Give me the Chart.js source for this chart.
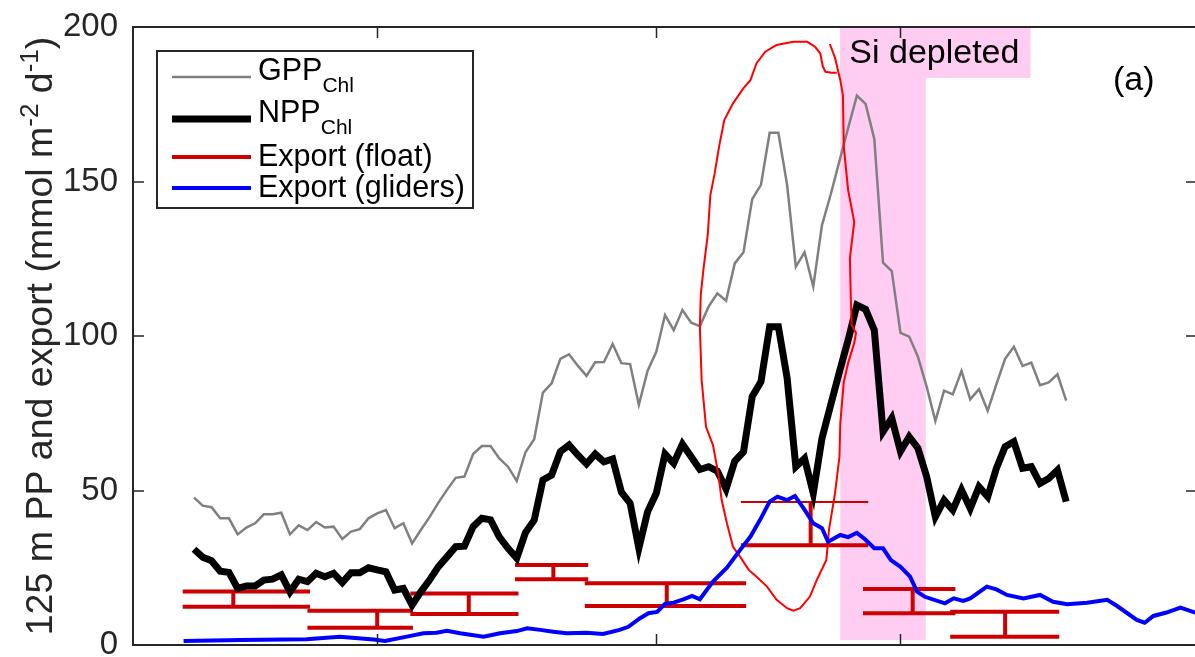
<!DOCTYPE html>
<html><head><meta charset="utf-8">
<script src="https://cdn.jsdelivr.net/npm/chart.js@4.4.1/dist/chart.umd.min.js"></script>
<style>
html,body{margin:0;padding:0;overflow:hidden;background:#fff;width:1195px;height:657px}
#wrap{position:absolute;left:0;top:0}
</style></head><body><div id="wrap"><canvas id="c" width="1200" height="657"></canvas></div>
<script>
// ---------------- data ----------------
const FIRST_DAY = 7; // GPP / NPP daily series start
const gppValues = [47.7,45.1,44.6,41.0,41.0,35.8,38.0,39.4,42.3,42.3,
42.8,35.8,38.7,37.2,39.8,38.0,38.3,34.3,36.7,37.5,
41.0,42.6,43.7,37.8,39.4,32.9,37.2,41.4,46.0,50.2,
54.1,54.5,61.8,64.4,64.4,60.4,57.7,53.1,62.4,66.6,
81.7,84.7,92.6,94.1,90.4,87.1,91.5,91.6,97.4,91.2,
90.9,77.7,88.7,94.9,106.8,101.9,108.4,104.3,103.2,109.5,
113.8,111.4,123.5,127.1,144.3,148.9,165.8,165.8,148.9,122.4,
127.1,116.0,135.9,145.8,156.6,167.3,177.8,175.1,163.8,123.7,
121.0,101.0,99.8,93.3,83.6,72.5,82.3,81.1,88.7,79.5,
82.8,75.8,84.4,92.6,96.5,90.3,91.4,84.1,85.0,87.6,
79.1];
const nppValues = [31.0,28.4,27.3,23.9,23.5,18.3,19.1,19.1,21.0,21.3,
22.7,17.2,21.3,20.5,23.2,22.1,23.2,20.2,23.4,23.4,
25.0,24.3,23.7,17.8,18.3,12.9,17.2,21.0,25.3,28.5,
31.8,32.0,38.3,41.0,40.5,35.0,31.3,28.1,36.4,40.4,
53.4,55.0,62.6,64.7,61.5,58.6,61.8,59.3,60.2,49.5,
45.9,31.3,43.1,49.1,61.8,58.8,65.0,60.9,56.8,57.7,
56.3,50.5,59.5,62.5,80.4,85.2,103.0,103.0,86.4,57.7,
60.4,49.1,66.9,77.7,88.4,98.7,110.0,108.6,101.9,69.0,
73.4,62.6,67.4,63.7,54.5,41.5,46.9,43.7,50.2,44.2,
51.2,48.0,57.2,64.2,65.8,57.2,57.7,52.3,53.9,56.6,
46.4];
const gliderDays = [5.8,12.3,19.9,23.7,27.6,28.9,31.4,33.3,34.8,36.0,37.5,40.2,42.1,44.0,45.2,46.7,48.2,49.7,52.0,53.9,55.8,56.8,58.1,59.1,60.1,61.0,62.0,63.1,64.1,65.0,66.5,68.1,69.6,70.8,71.9,73.0,73.9,75.0,75.9,76.9,78.0,79.0,79.7,81.1,82.0,83.0,83.9,85.0,86.0,86.9,88.0,89.1,89.9,90.8,93.1,94.1,95.2,96.0,97.9,99.0,100.2,102.1,104.0,105.5,107.1,109.4,111.7,112.8,115.1,116.0,117.0,118.5,120.1,121.8,122.5];
const gliderValues = [1.3,1.6,1.9,2.7,1.8,1.3,2.7,3.8,4.0,4.6,3.8,2.7,3.8,4.5,5.4,4.9,4.3,3.8,4.0,3.6,4.9,5.9,8.6,10.3,10.7,13.3,13.7,14.8,15.9,14.8,20.5,25.0,30.7,35.1,40.5,46.4,48.0,46.9,48.2,44.2,39.4,37.8,33.4,35.6,34.9,36.3,34.3,31.3,31.3,27.5,25.3,22.1,17.3,15.6,13.5,15.1,14.3,15.1,18.9,18.0,16.2,15.1,16.2,14.0,13.2,13.7,14.6,12.7,8.1,7.2,9.4,10.5,12.1,10.5,10.0];
// hand-drawn highlight loop
const loopDays = [79.9,80.5,81.1,81.4,81.5,82.0,82.7,82.2,82.3,82.4,82.9,82.7,82.0,81.5,81.1,81.0,80.5,79.8,79.5,78.4,77.6,76.5,75.7,75.0,73.8,72.7,71.5,70.6,69.6,68.8,68.1,67.5,67.1,66.5,65.7,65.2,65.0,65.1,65.4,65.9,66.2,66.7,67.2,67.8,68.8,70.0,70.8,71.5,72.5,73.8,75.7,77.3,78.2,78.8,79.1,79.4,80.1,80.7];
const loopValues = [194.5,190.0,182.8,178.0,161.2,147.2,136.9,125.2,112.6,103.6,101.0,97.7,91.3,85.1,71.8,60.8,49.2,37.2,27.5,21.0,15.6,11.9,11.1,11.9,14.6,18.9,22.1,24.3,28.6,31.8,39.4,46.9,55.6,64.7,70.6,85.8,102.9,113.3,121.4,132.7,145.6,152.7,161.3,169.9,175.3,180.2,182.8,188.3,192.0,194.2,195.2,195.2,193.6,191.5,187.2,185.5,185.2,185.2];
// float export bars
const floatStart = [5.7,20.0,31.8,43.8,51.8,69.7,83.7,93.7];
const floatEnd   = [20.3,32.1,44.2,52.2,70.3,84.3,94.3,106.2];
const floatMid   = [11.5,28.0,38.5,48.2,61.2,77.7,89.4,100.0];
const floatHigh  = [17.3,11.1,16.7,25.9,20.0,46.3,18.1,10.8];
const floatLow   = [12.4,5.6,10.0,21.3,12.6,32.3,10.3,2.7];
const yTicks = [0,50,100,150,200];
const xTicks = [28,60,88];
const siStart = 81.1, siEnd = 90.9, siBottom = 1.6, siLabelEnd = 102.9, siLabelBottom = 183.5;

// ---------------- chart ----------------
const FONT = "'Liberation Sans', Arial, Helvetica, sans-serif";
const AXIS = '#262626';
const TARGET = {left:133, top:27, right:1197, bottom:645};
const THIN_BAR = 5; // the bar whose upper cap is drawn thin in the source

const gppData = gppValues.map((v,i)=>({x:FIRST_DAY+i, y:v}));
const nppData = nppValues.map((v,i)=>({x:FIRST_DAY+i, y:v}));
const gliderData = gliderDays.map((d,i)=>({x:d, y:gliderValues[i]}));
const loopData = loopDays.map((d,i)=>({x:d, y:loopValues[i]}));
const floatData = [];
floatStart.forEach((s,i)=>{
  const e = floatEnd[i], m = floatMid[i];
  floatData.push({x:s,y:floatHigh[i]},{x:e,y:floatHigh[i]},{x:e,y:null},
                 {x:s,y:floatLow[i]},{x:e,y:floatLow[i]},{x:e,y:null},
                 {x:m,y:floatLow[i]},{x:m,y:floatHigh[i]},{x:m,y:null});
});

const legendOrder = ['GPP','NPP','Export (float)','Export (gliders)'];
const legendSubs = {'GPP':'Chl','NPP':'Chl'};

function richWidth(ctx, parts){
  let w=0; parts.forEach(p=>{ctx.font=p.size+'px '+FONT; w+=ctx.measureText(p.t).width;}); return w;
}
function drawRich(ctx, parts, x, y){
  parts.forEach(p=>{ctx.font=p.size+'px '+FONT; ctx.fillText(p.t, x, y+(p.dy||0)); x+=ctx.measureText(p.t).width;});
}

const decor = {
  id:'decor',
  beforeDatasetsDraw(chart){
    const {ctx, scales:{x,y}} = chart;
    ctx.save();
    ctx.fillStyle = 'rgb(255,204,242)';
    const xl = x.getPixelForValue(siStart), xr = x.getPixelForValue(siEnd);
    const yt = y.getPixelForValue(200);
    ctx.fillRect(xl, yt, xr-xl, y.getPixelForValue(siBottom)-yt);
    const xr2 = x.getPixelForValue(siLabelEnd);
    ctx.fillRect(xl, yt, xr2-xl, y.getPixelForValue(siLabelBottom)-yt);
    ctx.restore();
  },
  afterDraw(chart){
    const {ctx, chartArea:a, scales:{x,y}} = chart;
    ctx.save();
    ctx.fillStyle='#000'; ctx.textBaseline='alphabetic'; ctx.textAlign='left';
    ctx.font='34px '+FONT;
    ctx.fillText('Si depleted', x.getPixelForValue(siStart)+9, a.top+36);
    ctx.strokeStyle=AXIS; ctx.lineWidth=2;
    ctx.beginPath();
    ctx.moveTo(a.left, a.top); ctx.lineTo(a.right, a.top); ctx.lineTo(a.right, a.bottom);
    ctx.stroke();
    const TL = 11;
    ctx.beginPath();
    yTicks.forEach(v=>{const py=Math.round(y.getPixelForValue(v));
      ctx.moveTo(a.left, py); ctx.lineTo(a.left+TL, py);
      ctx.moveTo(a.right, py); ctx.lineTo(a.right-TL, py);});
    x.ticks.forEach(t=>{const px=Math.round(x.getPixelForValue(t.value))+0.5;
      ctx.moveTo(px, a.bottom); ctx.lineTo(px, a.bottom-TL);
      ctx.moveTo(px, a.top); ctx.lineTo(px, a.top+TL);});
    ctx.lineWidth=1.5; ctx.stroke();
    const L = {x:a.left+24, y:a.top+24, w:316, h:157};
    ctx.fillStyle='#fff'; ctx.fillRect(L.x, L.y, L.w, L.h);
    ctx.strokeStyle=AXIS; ctx.lineWidth=2; ctx.strokeRect(L.x, L.y, L.w, L.h);
    const rowLine = [26, 68, 106, 137];
    const rowText = [29, 71, 115, 146];
    legendOrder.forEach((lab,i)=>{
      const ds = chart.data.datasets.find(d=>d.label===lab);
      ctx.strokeStyle = ds.borderColor; ctx.lineWidth = ds.borderWidth;
      ctx.beginPath(); ctx.moveTo(L.x+15, L.y+rowLine[i]); ctx.lineTo(L.x+94, L.y+rowLine[i]); ctx.stroke();
      ctx.fillStyle='#000';
      const parts=[{t:lab,size:30.5}];
      if(legendSubs[lab]) parts.push({t:legendSubs[lab],size:21,dy:12});
      drawRich(ctx, parts, L.x+101, L.y+rowText[i]);
    });
    ctx.fillStyle='#000'; ctx.font='34px '+FONT;
    ctx.fillText('(a)', a.right-84, a.top+63);
    const tparts=[{t:'125 m PP and export (mmol m',size:37.5},{t:'-2',size:26,dy:-14},
      {t:' d',size:37.5},{t:'-1',size:26,dy:-14},{t:')',size:37.5}];
    ctx.translate(a.left-81, (a.top+a.bottom)/2);
    ctx.rotate(-Math.PI/2);
    ctx.fillStyle=AXIS;
    const tw = richWidth(ctx,tparts);
    drawRich(ctx, tparts, -tw/2, 0);
    ctx.restore();
  }
};

const chart = new Chart(document.getElementById('c'), {
  type:'line',
  data:{datasets:[
    {label:'Export (gliders)', data:gliderData, borderColor:'#0000ff', borderWidth:4, order:0},
    {label:'highlight', data:loopData, borderColor:'#ff0000', borderWidth:2, order:1},
    {label:'NPP', data:nppData, borderColor:'#000000', borderWidth:7, order:2},
    {label:'GPP', data:gppData, borderColor:'#808080', borderWidth:2.5, order:3},
    {label:'Export (float)', data:floatData, borderColor:'#cc0000', borderWidth:4, order:4,
      segment:{borderWidth: c => (c.p0DataIndex === THIN_BAR*9 ? 2 : undefined)}}
  ]},
  options:{
    responsive:false, animation:false, devicePixelRatio:1,
    layout:{padding:{left:0, top:27, right:3, bottom:0}},
    elements:{point:{radius:0, hitRadius:0}, line:{tension:0, fill:false, borderJoinStyle:'miter'}},
    plugins:{legend:{display:false}, tooltip:{enabled:false}},
    scales:{
      x:{type:'linear', min:0, max:122, position:'bottom',
        grid:{display:false, drawTicks:false}, border:{display:true, color:AXIS, width:2},
        ticks:{display:false},
        afterBuildTicks:s=>{s.ticks=xTicks.map(v=>({value:v}));},
        afterFit:s=>{s.height=12;}},
      y:{type:'linear', min:0, max:200, position:'left',
        grid:{display:true, drawOnChartArea:false, drawTicks:true, tickLength:15, color:'rgba(0,0,0,0)'},
        border:{display:true, color:AXIS, width:2},
        ticks:{color:AXIS, font:{family:FONT, size:33, lineHeight:0.7}, padding:0},
        afterBuildTicks:s=>{s.ticks=yTicks.map(v=>({value:v}));},
        afterFit:s=>{s.width=133;}}
    }
  },
  plugins:[decor]
});
// fit the plot box to the target frame through the layout padding
for (let k=0;k<4;k++){
  const a = chart.chartArea;
  const dt = TARGET.top-a.top, db = a.bottom-TARGET.bottom, dl = TARGET.left-a.left, dr = a.right-TARGET.right;
  if (Math.abs(dt)+Math.abs(db)+Math.abs(dl)+Math.abs(dr) < 0.5) break;
  const p = chart.config.options.layout.padding;
  p.top = Math.max(0, p.top+dt); p.bottom = Math.max(0, p.bottom+db);
  p.left = Math.max(0, p.left+dl); p.right = Math.max(0, p.right+dr);
  chart.update('none');
}
</script></body></html>
